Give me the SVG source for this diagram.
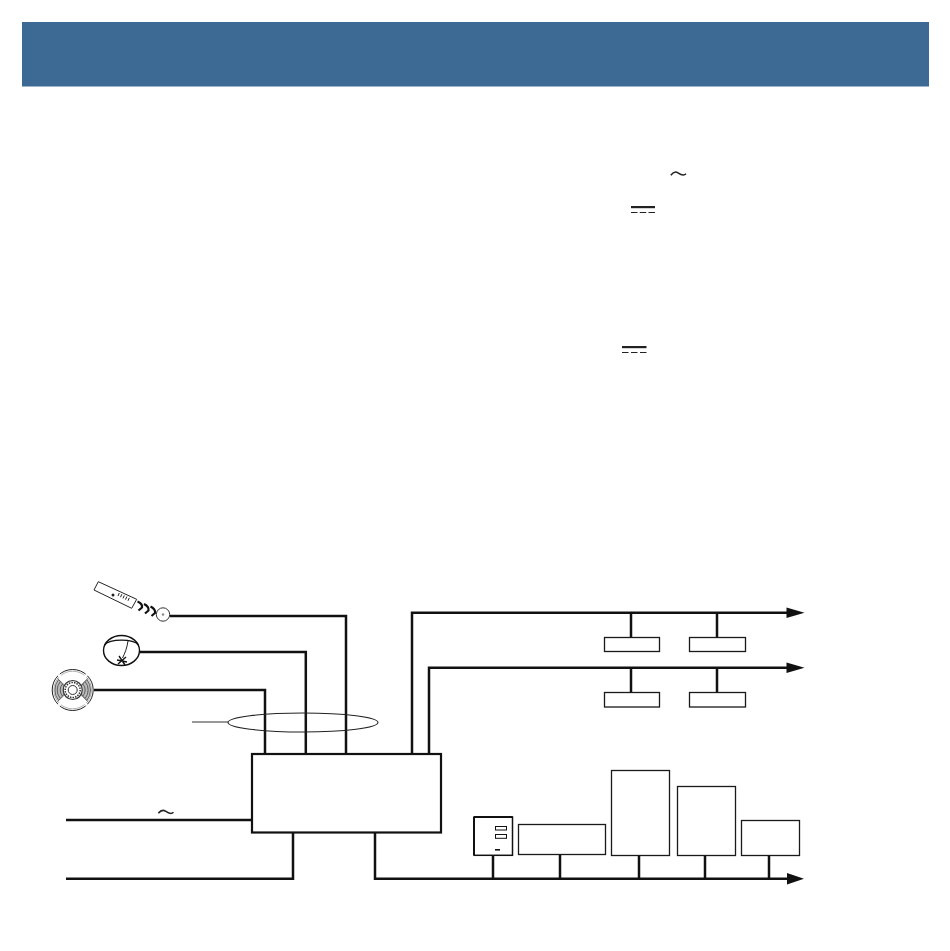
<svg xmlns="http://www.w3.org/2000/svg" width="950" height="951" viewBox="0 0 950 951">
<style>
.w{fill:none;stroke:#111;stroke-width:2.5}
.b{fill:#fff;stroke:#1a1a1a;stroke-width:1.300}
.t{fill:none;stroke:#222;stroke-width:1}
.a{fill:#111}
.f{fill:none;stroke:#444;stroke-width:.8}
</style>
<rect width="950" height="951" fill="#fff"/>
<rect id="header" x="22" y="22" width="907" height="64.500" fill="#3d6a94"/>
<g id="symbols">
<path fill="none" stroke="#222" stroke-width="1.500" d="M670.800 175.200C673.500 171.500 675.500 171 678 172.800C681 175 683.500 176.500 686 173.800"/>
<path fill="none" stroke="#222" stroke-width="1.500" d="M158.300 813.300C161 810 163 809.500 165.500 811.200C168.500 813.400 171 814.800 173.500 812.200"/>
<g id="dc1"><rect x="631" y="206" width="24" height="2.200" fill="#222"/><path d="M631 212.500h24" stroke="#222" stroke-width="1.200" stroke-dasharray="6.500 2.250" fill="none"/></g>
<g id="dc2"><rect x="622" y="346" width="24.500" height="2.200" fill="#222"/><path d="M622 352.500h24.500" stroke="#222" stroke-width="1.200" stroke-dasharray="6.500 2.500" fill="none"/></g>
</g>
<g id="connectors">
<path class="w" d="M170 616H346V754M140 652H305.800V754M94 690H265V754"/>
<path class="w" d="M412 754V612.700H790M429 754V667.700H790"/>
<path class="w" d="M66 820H253M66 878.800H293V833M375 833V878.800H790"/>
<path class="w" d="M631 612.700V637M717 612.700V637M631 667.700V692M717 667.700V692"/>
<path class="w" d="M493 855V878.800M560 854V878.800M639 855V878.800M705 855V878.800M769 855V878.800"/>
<path d="M192 722H228" stroke="#333" stroke-width="1" fill="none"/>
<path class="a" d="M786.500 607.500L804.500 612.700L786.500 617.900ZM786.500 662.500L804.500 667.700L786.500 672.900ZM787 873L804 878.800L787 884.600Z"/>
</g>
<g id="cable-bundle"><ellipse cx="303" cy="722.500" rx="75" ry="9.500" fill="none" stroke="#222" stroke-width="1.100"/></g>
<g id="controller"><rect x="252" y="754" width="189" height="78.500" fill="none" stroke="#111" stroke-width="2.200"/></g>
<g id="remote">
<path class="t" d="M98.300 581.700L136.700 599.300L131.700 608.300L94 590Z"/>
<circle cx="113" cy="595" r="1.500" fill="#222"/>
<path d="M118 596l1.300-3M120.500 597.200l1.300-3M123 598.400l1.300-3M125.500 599.600l1.300-3M128 600.800l1.300-3" stroke="#222" stroke-width="1"/>
<path d="M137.500 601.500C141 603 142.500 605 142 607.500L138.500 610.500M144 604C148 606 149 608 148.500 610.500L145 613.500M150.500 606.500C154.500 608.500 155.500 610.500 155 613L151.500 616" fill="none" stroke="#111" stroke-width="2.200"/>
</g>
<g id="receiver"><circle cx="163" cy="614.500" r="6.700" fill="#fff" stroke="#333" stroke-width="1"/><circle cx="163" cy="614.500" r="1.200" fill="#888"/></g>
<g id="detector">
<ellipse cx="121.500" cy="650.500" rx="18" ry="15" fill="#fff" stroke="#111" stroke-width="1.400"/>
<path fill="none" stroke="#111" stroke-width="1.200" d="M104.500 645C110 638.500 133 638.500 138.500 645"/>
<path class="t" d="M128 641C127 648 125 653 122.500 658"/>
<path d="M119 656L125 665M126 657L118 664M117 660L127 662" stroke="#111" stroke-width="1.400"/>
</g>
<g id="siren">
<circle cx="72.700" cy="690" r="20.500" fill="#fff" stroke="#222" stroke-width="1"/>
<circle cx="72.700" cy="690" r="18.800" fill="none" stroke="#666" stroke-width=".5"/>
<path d="M58.500 679.500A17 17 0 0 0 58.500 700.500L68 690ZM86.900 679.500A17 17 0 0 1 86.900 700.500L77.400 690Z" fill="#bbb" stroke="#333" stroke-width=".7"/>
<path class="f" d="M60 682A13 13 0 0 0 60 698M62.500 684A9 9 0 0 0 62.500 696M85.400 682A13 13 0 0 1 85.400 698M82.900 684A9 9 0 0 1 82.900 696"/>
<path d="M58.500 674.500L87 705.500M58.500 705.500L87 674.500" stroke="#fff" stroke-width="2.200"/>
<path d="M56.500 677.500L65 685.500M88.900 677.500L80.400 685.500M56.500 702.500L65 694.500M88.900 702.500L80.400 694.500" stroke="#555" stroke-width=".6"/>
<circle cx="72.700" cy="690" r="9.500" fill="#fff" stroke="#333" stroke-width="1.200"/>
<circle cx="72.700" cy="690" r="7.500" fill="none" stroke="#333" stroke-width="1.500" stroke-dasharray="1.500 1.100"/>
<circle cx="72.700" cy="690" r="4.500" fill="#fff" stroke="#333" stroke-width="1"/>
</g>
<g id="zone1-box1"><rect class="b" x="604.500" y="637.500" width="55" height="14"/></g>
<g id="zone1-box2"><rect class="b" x="689.500" y="637.500" width="56" height="14"/></g>
<g id="zone2-box1"><rect class="b" x="604.500" y="692.500" width="55" height="14.500"/></g>
<g id="zone2-box2"><rect class="b" x="689.500" y="692.500" width="56" height="14.500"/></g>
<g id="panel">
<rect x="474" y="817" width="38.500" height="38.300" fill="#fff" stroke="#111" stroke-width="1.500"/>
<path d="M474 817H512.500" stroke="#111" stroke-width="2.200"/><path d="M474 817V855" stroke="#111" stroke-width="2"/>
<rect x="495.500" y="826.500" width="11" height="3.500" fill="#fff" stroke="#111" stroke-width="1"/>
<rect x="495.500" y="834.500" width="11" height="3.800" fill="#fff" stroke="#111" stroke-width="1"/>
<rect x="495" y="849" width="5" height="1.600" fill="#111"/>
</g>
<g id="device1"><rect class="b" x="518.500" y="824.500" width="87" height="30"/></g>
<g id="device2"><rect class="b" x="611.500" y="770.500" width="58" height="85"/></g>
<g id="device3"><rect class="b" x="677.500" y="786.500" width="58" height="69"/></g>
<g id="device4"><rect class="b" x="741.500" y="820.500" width="58" height="35"/></g>
</svg>
